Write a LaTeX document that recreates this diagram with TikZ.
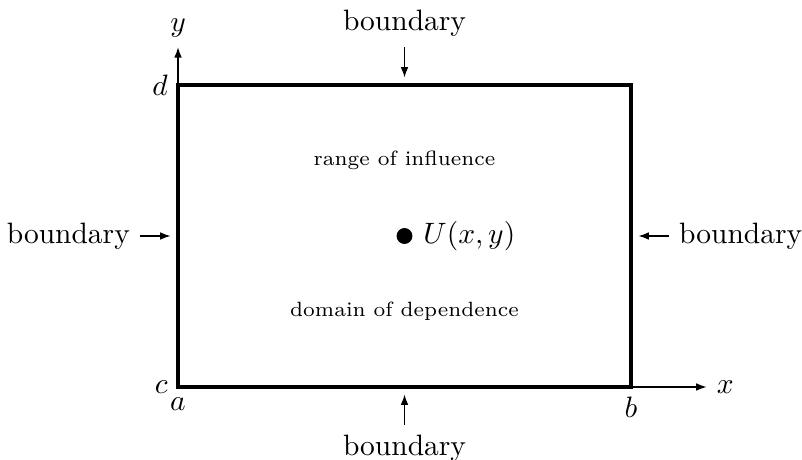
\documentclass[tikz,border=0pt]{standalone}
\usepackage{tikz}
\usetikzlibrary{arrows.meta,positioning}

\begin{document}
\begin{tikzpicture}[scale=0.9,
    tip/.style={-{Latex[length=3.5pt,width=2.6pt]}},
    region/.style={font=\scriptsize}]
  \useasboundingbox (-2.358,-0.954) rectangle (8.265,5.126);
  % corners of the domain
  \coordinate (a) at (0,0);
  \coordinate (b) at (6,0);
  \coordinate (d) at (0,4);
  \coordinate (e) at (6,4);
  % axes
  \coordinate (ytop) at (0,4.5);
  \coordinate (xend) at (7,0);
  \draw[tip] (a) -- (ytop) node[above] {$y$};
  \draw[tip] (b) -- (xend) node[right] {$x$};
  \draw[very thick] (a) rectangle (e);
  \node[below] at (a) {$a$};
  \node[left] at (a) {$c$};
  \node[left] at (d) {$d$};
  \node[below] at (b) {$b$};
  % boundary arrows
  \coordinate (top1) at (3,4.5);   \coordinate (top2) at (3,4.1);
  \coordinate (bot1) at (3,-0.5);  \coordinate (bot2) at (3,-0.1);
  \coordinate (lft1) at (-0.5,2);  \coordinate (lft2) at (-0.1,2);
  \coordinate (rgt1) at (6.5,2);   \coordinate (rgt2) at (6.1,2);
  \draw[tip] (top1) node[above] {boundary} -- (top2);
  \draw[tip] (bot1) node[below] {boundary} -- (bot2);
  \draw[tip] (lft1) node[left] {boundary} -- (lft2);
  \draw[tip] (rgt1) node[right] {boundary} -- (rgt2);
  % point and regions
  \node[circle,fill,inner sep=0pt,minimum size=5.4pt] (U) at (3,2) {};
  \node[right=0pt of U] (Ulabel) {$U(x,y)$};
  \node[region] (range) at (3,3) {range of influence};
  \node[region] (domain) at (3,1) {domain of dependence};
\end{tikzpicture}
\end{document}
